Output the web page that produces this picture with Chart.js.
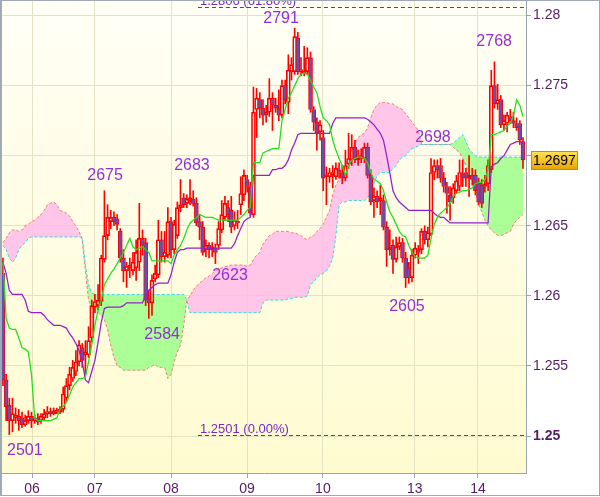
<!DOCTYPE html>
<html>
<head>
<meta charset="utf-8">
<script src="https://cdn.jsdelivr.net/npm/chart.js@4.4.0/dist/chart.umd.min.js"></script>
<style>
  html, body { margin: 0; padding: 0; background: #fff; }
</style>
</head>
<body>
<canvas id="ichimoku" width="600" height="497"></canvas>
<script>
// hourly candles, index 0..164
const opens = [
  1.2616,1.2540,1.2522,1.2511,1.2513,1.2514,1.2513,1.2508,1.2511,1.2514,
  1.2511,1.2513,1.2511,1.2513,1.2516,1.2517,1.2516,1.2518,1.2517,1.2519,
  1.2527,1.2536,1.2541,1.2546,1.2553,1.2563,1.2558,1.2558,1.2570,1.2592,
  1.2593,1.2596,1.2626,1.2643,1.2653,1.2656,1.2655,1.2646,1.2627,1.2618,
  1.2620,1.2618,1.2620,1.2624,1.2641,1.2638,1.2598,1.2595,1.2612,1.2615,
  1.2640,1.2628,1.2629,1.2653,1.2633,1.2643,1.2663,1.2670,1.2666,1.2668,
  1.2669,1.2666,1.2653,1.2649,1.2633,1.2636,1.2633,1.2634,1.2636,1.2647,
  1.2656,1.2663,1.2661,1.2650,1.2653,1.2665,1.2672,1.2683,1.2678,1.2658,
  1.2733,1.2740,1.2734,1.2731,1.2731,1.2741,1.2736,1.2734,1.2729,1.2750,
  1.2738,1.2760,1.2760,1.2784,1.2760,1.2760,1.2760,1.2770,1.2733,1.2724,
  1.2717,1.2713,1.2685,1.2685,1.2686,1.2685,1.2690,1.2688,1.2684,1.2694,
  1.2697,1.2706,1.2697,1.2698,1.2698,1.2706,1.2686,1.2668,1.2671,1.2668,
  1.2668,1.2649,1.2633,1.2636,1.2626,1.2635,1.2638,1.2627,1.2620,1.2613,
  1.2629,1.2633,1.2633,1.2646,1.2640,1.2644,1.2688,1.2693,1.2693,1.2684,
  1.2678,1.2672,1.2670,1.2675,1.2678,1.2687,1.2688,1.2684,1.2686,1.2686,
  1.2681,1.2679,1.2678,1.2680,1.2690,1.2750,1.2737,1.2740,1.2722,1.2723,
  1.2728,1.2725,1.2723,1.2723,1.2710
];
const highs = [
  1.2627,1.2544,1.2527,1.2527,1.2520,1.2519,1.2517,1.2515,1.2518,1.2517,
  1.2515,1.2516,1.2516,1.2519,1.2521,1.2520,1.2520,1.2520,1.2521,1.2535,
  1.2541,1.2549,1.2554,1.2561,1.2568,1.2566,1.2568,1.2578,1.2597,1.2601,
  1.2608,1.2629,1.2675,1.2665,1.2661,1.2660,1.2658,1.2648,1.2633,1.2624,
  1.2627,1.2631,1.2640,1.2666,1.2647,1.2641,1.2604,1.2615,1.2622,1.2654,
  1.2646,1.2646,1.2663,1.2656,1.2654,1.2667,1.2683,1.2673,1.2672,1.2683,
  1.2675,1.2670,1.2658,1.2653,1.2640,1.2638,1.2638,1.2637,1.2653,1.2668,
  1.2671,1.2668,1.2671,1.2660,1.2661,1.2685,1.2690,1.2686,1.2681,1.2749,
  1.2748,1.2745,1.2740,1.2736,1.2755,1.2745,1.2741,1.2747,1.2754,1.2754,
  1.2772,1.2770,1.2791,1.2788,1.2770,1.2778,1.2777,1.2774,1.2735,1.2727,
  1.2725,1.2718,1.2692,1.2691,1.2693,1.2695,1.2695,1.2693,1.2704,1.2716,
  1.2715,1.2711,1.2704,1.2705,1.2709,1.2709,1.2690,1.2677,1.2675,1.2679,
  1.2672,1.2653,1.2647,1.2640,1.2642,1.2642,1.2641,1.2631,1.2624,1.2633,
  1.2638,1.2636,1.2648,1.2650,1.2649,1.2698,1.2697,1.2697,1.2698,1.2688,
  1.2681,1.2678,1.2680,1.2686,1.2697,1.2697,1.2691,1.2700,1.2691,1.2690,
  1.2684,1.2683,1.2686,1.2697,1.2761,1.2767,1.2751,1.2743,1.2729,1.2731,
  1.2733,1.2731,1.2727,1.2725,1.2713
];
const lows = [
  1.2536,1.2511,1.2501,1.2503,1.2509,1.2504,1.2506,1.2507,1.2509,1.2506,
  1.2509,1.2508,1.2509,1.2511,1.2513,1.2514,1.2515,1.2516,1.2516,1.2517,
  1.2524,1.2533,1.2539,1.2543,1.2550,1.2549,1.2544,1.2556,1.2567,1.2588,
  1.2590,1.2593,1.2624,1.2640,1.2648,1.2650,1.2647,1.2624,1.2610,1.2606,
  1.2613,1.2615,1.2611,1.2618,1.2629,1.2593,1.2584,1.2586,1.2610,1.2613,
  1.2624,1.2624,1.2627,1.2627,1.2630,1.2641,1.2660,1.2663,1.2663,1.2665,
  1.2664,1.2650,1.2640,1.2629,1.2628,1.2627,1.2628,1.2623,1.2633,1.2645,
  1.2654,1.2653,1.2645,1.2647,1.2648,1.2658,1.2668,1.2674,1.2657,1.2656,
  1.2713,1.2727,1.2722,1.2724,1.2728,1.2718,1.2731,1.2725,1.2727,1.2737,
  1.2730,1.2754,1.2758,1.2758,1.2757,1.2757,1.2758,1.2731,1.2718,1.2704,
  1.2711,1.2675,1.2665,1.2681,1.2677,1.2683,1.2684,1.2680,1.2682,1.2691,
  1.2693,1.2695,1.2693,1.2695,1.2695,1.2684,1.2665,1.2656,1.2663,1.2658,
  1.2647,1.2621,1.2629,1.2616,1.2624,1.2633,1.2624,1.2606,1.2609,1.2610,
  1.2627,1.2623,1.2630,1.2637,1.2635,1.2643,1.2683,1.2684,1.2681,1.2674,
  1.2659,1.2654,1.2666,1.2673,1.2675,1.2678,1.2678,1.2671,1.2679,1.2672,
  1.2665,1.2663,1.2674,1.2675,1.2688,1.2734,1.2733,1.2720,1.2718,1.2717,
  1.2723,1.2720,1.2718,1.2708,1.2691
];
const closes = [
  1.2540,1.2521,1.2511,1.2516,1.2515,1.2511,1.2508,1.2511,1.2514,1.2511,
  1.2512,1.2510,1.2514,1.2516,1.2517,1.2516,1.2518,1.2517,1.2519,1.2530,
  1.2536,1.2544,1.2549,1.2553,1.2565,1.2554,1.2560,1.2568,1.2593,1.2596,
  1.2597,1.2627,1.2643,1.2656,1.2656,1.2653,1.2651,1.2627,1.2618,1.2621,
  1.2622,1.2624,1.2631,1.2641,1.2636,1.2597,1.2595,1.2611,1.2616,1.2640,
  1.2628,1.2631,1.2653,1.2633,1.2651,1.2663,1.2665,1.2665,1.2669,1.2670,
  1.2666,1.2652,1.2649,1.2631,1.2636,1.2633,1.2635,1.2631,1.2648,1.2658,
  1.2666,1.2658,1.2649,1.2654,1.2652,1.2673,1.2686,1.2678,1.2659,1.2731,
  1.2741,1.2734,1.2729,1.2729,1.2741,1.2736,1.2734,1.2729,1.2750,1.2740,
  1.2761,1.2765,1.2785,1.2760,1.2761,1.2759,1.2770,1.2733,1.2724,1.2716,
  1.2722,1.2684,1.2686,1.2688,1.2688,1.2691,1.2688,1.2684,1.2693,1.2698,
  1.2706,1.2697,1.2699,1.2700,1.2706,1.2686,1.2667,1.2671,1.2667,1.2670,
  1.2649,1.2633,1.2635,1.2626,1.2635,1.2638,1.2627,1.2613,1.2613,1.2629,
  1.2634,1.2631,1.2646,1.2640,1.2645,1.2688,1.2693,1.2690,1.2684,1.2678,
  1.2673,1.2667,1.2677,1.2682,1.2688,1.2684,1.2684,1.2686,1.2683,1.2675,
  1.2667,1.2666,1.2680,1.2693,1.2750,1.2737,1.2740,1.2722,1.2725,1.2729,
  1.2725,1.2723,1.2720,1.2711,1.2697
];

// ichimoku lines
const tenkan = [
  1.2624,1.2584,1.2577,1.2576,1.2576,1.2570,1.2563,1.2562,1.2560,1.2544,
  1.2513,1.2511,1.2511,1.2511,1.2511,1.2511,1.2512,1.2513,1.2519,1.2521,
  1.2524,1.2529,1.2535,1.2538,1.2541,1.2541,1.2542,1.2553,1.2565,1.2579,
  1.2590,1.2597,1.2608,1.2612,1.2616,1.2619,1.2623,1.2627,1.2631,1.2636,
  1.2641,1.2635,1.2633,1.2634,1.2635,1.2633,1.2631,1.2625,1.2625,1.2625,
  1.2625,1.2625,1.2625,1.2623,1.2629,1.2633,1.2636,1.2641,1.2647,1.2652,
  1.2654,1.2656,1.2658,1.2657,1.2656,1.2656,1.2656,1.2655,1.2654,1.2654,
  1.2654,1.2654,1.2654,1.2654,1.2654,1.2656,1.2658,1.2661,1.2663,1.2695,
  1.2695,1.2695,1.2702,1.2703,1.2704,1.2705,1.2705,1.2705,1.2725,1.2733,
  1.2741,1.2745,1.2750,1.2755,1.2758,1.2759,1.2758,1.2754,1.2749,1.2745,
  1.2735,1.2727,1.2725,1.2722,1.2711,1.2704,1.2698,1.2693,1.2686,1.2693,
  1.2697,1.2698,1.2699,1.2699,1.2698,1.2695,1.2688,1.2683,1.2682,1.2680,
  1.2675,1.2667,1.2660,1.2656,1.2651,1.2646,1.2643,1.2642,1.2636,1.2631,
  1.2628,1.2627,1.2627,1.2627,1.2629,1.2641,1.2651,1.2656,1.2659,1.2661,
  1.2663,1.2666,1.2671,1.2673,1.2674,1.2675,1.2675,1.2676,1.2677,1.2680,
  1.2681,1.2681,1.2683,1.2690,1.2715,1.2715,1.2716,1.2717,1.2718,1.2721,
  1.2723,1.2729,1.2740,1.2736,1.2728
];
const kijun = [
  1.2624,1.2616,1.2604,1.2601,1.2601,1.2601,1.2601,1.2597,1.2589,1.2588,
  1.2588,1.2588,1.2588,1.2586,1.2583,1.2581,1.2579,1.2579,1.2579,1.2578,
  1.2577,1.2573,1.2570,1.2566,1.2561,1.2553,1.2540,1.2538,1.2546,1.2554,
  1.2567,1.2581,1.2591,1.2592,1.2592,1.2592,1.2592,1.2592,1.2593,1.2595,
  1.2595,1.2595,1.2595,1.2595,1.2595,1.2600,1.2604,1.2606,1.2608,1.2609,
  1.2609,1.2609,1.2609,1.2615,1.2624,1.2631,1.2633,1.2633,1.2634,1.2634,
  1.2634,1.2634,1.2634,1.2634,1.2634,1.2634,1.2634,1.2634,1.2634,1.2634,
  1.2634,1.2634,1.2634,1.2637,1.2643,1.2648,1.2653,1.2655,1.2656,1.2686,
  1.2686,1.2686,1.2686,1.2686,1.2686,1.2690,1.2690,1.2691,1.2691,1.2693,
  1.2697,1.2704,1.2709,1.2715,1.2716,1.2716,1.2716,1.2716,1.2716,1.2716,
  1.2716,1.2716,1.2716,1.2716,1.2723,1.2727,1.2727,1.2727,1.2727,1.2727,
  1.2727,1.2727,1.2727,1.2727,1.2727,1.2726,1.2724,1.2722,1.2719,1.2716,
  1.2711,1.2700,1.2688,1.2675,1.2670,1.2667,1.2665,1.2663,1.2661,1.2661,
  1.2661,1.2661,1.2661,1.2661,1.2661,1.2661,1.2659,1.2657,1.2656,1.2656,
  1.2654,1.2652,1.2652,1.2652,1.2652,1.2652,1.2652,1.2652,1.2652,1.2652,
  1.2652,1.2652,1.2652,1.2652,1.2692,1.2694,1.2695,1.2698,1.2700,1.2704,
  1.2708,1.2709,1.2710,1.2710,1.2709
];
const spanA = [
  1.2638,1.2641,1.2645,1.2647,1.2647,1.2646,1.2647,1.2650,1.2651,1.2653,
  1.2654,1.2656,1.2658,1.2661,1.2665,1.2666,1.2667,1.2665,1.2661,1.2660,
  1.2659,1.2657,1.2653,1.2650,1.2646,1.2640,1.2618,1.2597,1.2591,1.2590,
  1.2588,1.2586,1.2583,1.2576,1.2565,1.2556,1.2550,1.2549,1.2547,1.2547,
  1.2547,1.2547,1.2547,1.2547,1.2547,1.2547,1.2549,1.2550,1.2551,1.2549,
  1.2549,1.2549,1.2541,1.2544,1.2553,1.2560,1.2565,1.2579,1.2597,1.2600,
  1.2604,1.2607,1.2609,1.2611,1.2613,1.2614,1.2616,1.2618,1.2619,1.2620,
  1.2621,1.2621,1.2622,1.2622,1.2622,1.2622,1.2622,1.2621,1.2622,1.2626,
  1.2629,1.2631,1.2637,1.2640,1.2643,1.2644,1.2646,1.2646,1.2646,1.2646,
  1.2646,1.2645,1.2645,1.2644,1.2643,1.2641,1.2640,1.2642,1.2643,1.2646,
  1.2648,1.2651,1.2656,1.2661,1.2672,1.2679,1.2683,1.2686,1.2693,1.2698,
  1.2704,1.2709,1.2713,1.2715,1.2716,1.2720,1.2727,1.2733,1.2736,1.2738,
  1.2738,1.2738,1.2737,1.2737,1.2735,1.2734,1.2733,1.2730,1.2727,1.2724,
  1.2721,1.2718,1.2708,1.2708,1.2708,1.2708,1.2708,1.2708,1.2708,1.2708,
  1.2708,1.2708,1.2706,1.2704,1.2702,1.2698,1.2693,1.2688,1.2684,1.2675,
  1.2665,1.2660,1.2654,1.2650,1.2647,1.2645,1.2643,1.2643,1.2644,1.2645,
  1.2646,1.2651,1.2654,1.2656,1.2658
];
const spanB = [
  1.2636,1.2633,1.2627,1.2624,1.2627,1.2633,1.2636,1.2638,1.2641,1.2642,
  1.2642,1.2642,1.2642,1.2642,1.2642,1.2642,1.2642,1.2642,1.2642,1.2642,
  1.2642,1.2642,1.2642,1.2642,1.2642,1.2642,1.2622,1.2608,1.2602,1.2601,
  1.2601,1.2601,1.2601,1.2601,1.2601,1.2601,1.2601,1.2601,1.2601,1.2601,
  1.2601,1.2601,1.2601,1.2601,1.2601,1.2601,1.2601,1.2601,1.2601,1.2601,
  1.2601,1.2601,1.2601,1.2601,1.2601,1.2601,1.2601,1.2601,1.2597,1.2588,
  1.2588,1.2588,1.2588,1.2588,1.2588,1.2588,1.2588,1.2588,1.2588,1.2588,
  1.2588,1.2588,1.2588,1.2588,1.2588,1.2588,1.2588,1.2588,1.2588,1.2588,
  1.2588,1.2588,1.2595,1.2597,1.2597,1.2597,1.2597,1.2597,1.2597,1.2597,
  1.2598,1.2598,1.2599,1.2599,1.2599,1.2599,1.2600,1.2608,1.2610,1.2613,
  1.2615,1.2616,1.2618,1.2621,1.2627,1.2643,1.2665,1.2667,1.2667,1.2668,
  1.2668,1.2668,1.2668,1.2668,1.2668,1.2670,1.2674,1.2680,1.2686,1.2688,
  1.2688,1.2688,1.2688,1.2691,1.2693,1.2697,1.2699,1.2700,1.2703,1.2705,
  1.2706,1.2707,1.2708,1.2708,1.2708,1.2708,1.2708,1.2708,1.2708,1.2708,
  1.2708,1.2708,1.2709,1.2711,1.2713,1.2715,1.2710,1.2705,1.2702,1.2700,
  1.2699,1.2699,1.2699,1.2699,1.2699,1.2699,1.2699,1.2699,1.2699,1.2699,
  1.2699,1.2699,1.2699,1.2699,1.2699
];

// axes
const dayTicks = [9.2, 29, 53, 77, 100.9, 129.9, 149.8];
const dayLabels = ['06', '07', '08', '09', '10', '13', '14'];
const priceTicks = [1.25, 1.255, 1.26, 1.265, 1.27, 1.275, 1.28];

// swing labels (candle index, price, text)
const swingText = ['2501', '2675', '2584', '2683', '2623', '2791', '2605', '2698', '2768'];
const swingAt = [6.9, 32.2, 50.2, 59.6, 71.6, 87.7, 127.4, 135.6, 154.9];
const swingPrice = [1.24893, 1.26855, 1.25721, 1.26933, 1.26141, 1.27975, 1.2592, 1.27126, 1.27811];

// fibo levels
const fibPrice = [1.2806, 1.2501];
const fibText = ['1.2806 (61.80%)', '1.2501 (0.00%)'];
const fibFrom = 61.5;
const lastPrice = 1.2697;

const FONT = 'Liberation Sans, Arial, sans-serif';
Chart.defaults.font.family = FONT;

const idx = closes.map((c, i) => i);
const pts = arr => arr.map((v, i) => ({ x: i, y: v }));
const bodyLo = idx.map(i => Math.min(opens[i], closes[i]));
const bodyHi = idx.map(i => Math.max(opens[i], closes[i]));
// wicks drawn only outside the body so hollow candles stay hollow
const upperWick = idx.map(i => ({ x: i, y: [bodyHi[i], highs[i]] }));
const lowerWick = idx.map(i => ({ x: i, y: [lows[i], bodyLo[i]] }));
const bodyData = idx.map(i => ({ x: i, y: [bodyLo[i], bodyHi[i]] }));
const bodyFill = idx.map(i => closes[i] < opens[i] ? '#6450b4' : 'rgba(0,0,0,0)');

const bgPlugin = {
  id: 'bg',
  beforeDraw(chart) {
    const { ctx, chartArea: a } = chart;
    ctx.save();
    ctx.fillStyle = '#ffffff';
    ctx.fillRect(0, 0, chart.width, chart.height);
    const g = ctx.createLinearGradient(0, a.top, 0, a.bottom);
    g.addColorStop(0, '#fffff6');
    g.addColorStop(1, '#fffbd0');
    ctx.fillStyle = g;
    ctx.fillRect(0, a.top, a.right, a.bottom - a.top);
    ctx.restore();
  }
};

const decorPlugin = {
  id: 'decor',
  afterDatasetsDraw(chart) {
    const { ctx, chartArea: a, scales: { x, y } } = chart;
    ctx.save();
    ctx.beginPath();
    ctx.rect(a.left, a.top, a.right - a.left, a.bottom - a.top);
    ctx.clip();

    // fibo lines
    ctx.strokeStyle = '#8020c8';
    ctx.lineWidth = 1;
    ctx.setLineDash([4, 3]);
    ctx.font = '13px ' + FONT;
    ctx.textAlign = 'left';
    ctx.textBaseline = 'alphabetic';
    fibPrice.forEach((p, k) => {
      const py = Math.round(y.getPixelForValue(p)) + 0.5;
      const px = x.getPixelForValue(fibFrom);
      ctx.beginPath();
      ctx.moveTo(px, py);
      ctx.lineTo(a.right, py);
      ctx.stroke();
      ctx.fillStyle = '#7a2ac4';
      ctx.fillText(fibText[k], px + 2, py - 3);
    });
    ctx.setLineDash([]);

    // swing labels
    ctx.font = '16px ' + FONT;
    ctx.textAlign = 'center';
    ctx.textBaseline = 'middle';
    ctx.fillStyle = '#9330d0';
    swingText.forEach((t, k) => {
      ctx.fillText(t, x.getPixelForValue(swingAt[k]), y.getPixelForValue(swingPrice[k]));
    });
    ctx.restore();
  },
  afterDraw(chart) {
    const { ctx, chartArea: a, scales: { y } } = chart;
    ctx.save();
    // last price box
    const py = Math.round(y.getPixelForValue(lastPrice));
    const bx = a.right + 5.5, bw = 46, bh = 18;
    const g = ctx.createLinearGradient(0, py - bh / 2, 0, py + bh / 2);
    g.addColorStop(0, '#ffe45a');
    g.addColorStop(1, '#e8a600');
    ctx.fillStyle = g;
    ctx.fillRect(bx, py - bh / 2 + 0.5, bw, bh);
    ctx.strokeStyle = '#8a929c';
    ctx.lineWidth = 1;
    ctx.strokeRect(bx, py - bh / 2 + 0.5, bw, bh);
    ctx.fillStyle = '#000000';
    ctx.font = '14px ' + FONT;
    ctx.textAlign = 'center';
    ctx.textBaseline = 'middle';
    ctx.fillText(lastPrice.toFixed(4), bx + bw / 2, py + 1);

    // page frame
    ctx.strokeStyle = '#a0aab6';
    ctx.beginPath();
    ctx.moveTo(0, 0.5); ctx.lineTo(600, 0.5);
    ctx.moveTo(0, 495.5); ctx.lineTo(600, 495.5);
    ctx.moveTo(599.5, 0); ctx.lineTo(599.5, 496);
    ctx.stroke();
    ctx.fillStyle = '#a0aab6';
    ctx.fillRect(0, 0, 2, 496);
    ctx.restore();
  }
};

const wickStyle = { type: 'bar', backgroundColor: '#ff0000', barThickness: 1, grouped: false, order: 5 };

new Chart(document.getElementById('ichimoku'), {
  type: 'line',
  data: {
    datasets: [
      {
        label: 'Senkou A',
        data: pts(spanA),
        borderColor: '#f27c7c',
        borderWidth: 1,
        borderDash: [3, 2],
        pointRadius: 0,
        fill: { target: 1, above: 'rgba(255,188,234,0.85)', below: 'rgba(158,255,138,0.85)' },
        order: 10
      },
      {
        label: 'Senkou B',
        data: pts(spanB),
        borderColor: '#30d8e8',
        borderWidth: 1,
        borderDash: [3, 2],
        pointRadius: 0,
        fill: false,
        order: 9
      },
      Object.assign({ label: 'upper wick', data: upperWick }, wickStyle),
      Object.assign({ label: 'lower wick', data: lowerWick }, wickStyle),
      {
        type: 'bar',
        label: 'body',
        data: bodyData,
        backgroundColor: bodyFill,
        borderColor: '#ff0000',
        borderWidth: 1,
        borderSkipped: false,
        barThickness: 4,
        minBarLength: 2,
        grouped: false,
        order: 4
      },
      {
        label: 'Kijun',
        data: pts(kijun),
        borderColor: '#9420cc',
        borderWidth: 1.25,
        pointRadius: 0,
        fill: false,
        order: 2
      },
      {
        label: 'Tenkan',
        data: pts(tenkan),
        borderColor: '#1ee01e',
        borderWidth: 1.25,
        pointRadius: 0,
        fill: false,
        order: 1
      }
    ]
  },
  options: {
    responsive: false,
    animation: false,
    events: [],
    layout: { padding: { left: 2, top: 0, right: 0, bottom: 0 } },
    plugins: {
      legend: { display: false },
      tooltip: { enabled: false }
    },
    scales: {
      x: {
        type: 'linear',
        min: -0.3,
        max: 164.95,
        offset: false,
        grid: { color: '#e4e2c2', tickColor: '#9aa4b0', tickLength: 5, offset: false },
        border: { color: '#9aa4b0' },
        ticks: {
          autoSkip: false,
          maxRotation: 0,
          padding: 3,
          color: '#561c63',
          font: { size: 14 },
          callback: (v, i) => dayLabels[i]
        },
        afterBuildTicks: s => { s.ticks = dayTicks.map(v => ({ value: v })); },
        afterFit: s => { s.height = 24; s.paddingLeft = 0; s.paddingRight = 0; }
      },
      y: {
        position: 'right',
        min: 1.24736,
        max: 1.28111,
        grid: { color: '#e4e2c2', tickColor: '#9aa4b0', tickLength: 5 },
        border: { color: '#9aa4b0' },
        ticks: {
          padding: 2,
          color: '#561c63',
          font: c => ({ size: 14, weight: c.tick && c.tick.value === 1.25 ? 'bold' : 'normal' }),
          callback: v => v === 1.27 ? '' : String(+v.toFixed(3))
        },
        afterBuildTicks: s => { s.ticks = priceTicks.map(v => ({ value: v })); },
        afterFit: s => { s.width = 74; s.paddingTop = 0; s.paddingBottom = 0; }
      }
    }
  },
  plugins: [bgPlugin, decorPlugin]
});
</script>
</body>
</html>
